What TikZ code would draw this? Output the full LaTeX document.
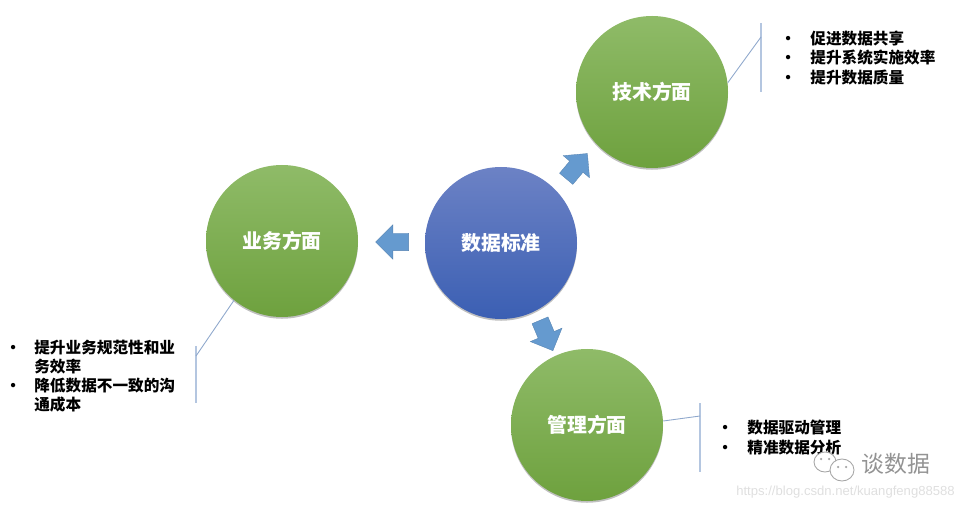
\documentclass[tikz,border=0pt]{standalone}
\usepackage{fontspec}
\usepackage{tikz}
\usetikzlibrary{shapes.arrows, shadows}
\setmainfont{Noto Sans CJK SC}
\newfontfamily\urlfont{Liberation Sans}
\newcommand{\lbul}{\makebox[0.6cm][l]{\textbullet}}
\newcommand{\lbuls}{\makebox[0.58cm][l]{\textbullet}}
\newcommand{\lgap}{\hspace*{0.58cm}}
\definecolor{greentop}{HTML}{8FBB68}
\definecolor{greenbot}{HTML}{6EA13E}
\definecolor{bluetop}{HTML}{6C82C5}
\definecolor{bluebot}{HTML}{3B5FB3}
\definecolor{arrowblue}{HTML}{659ACF}
\definecolor{bracketblue}{HTML}{B4C6E0}
\definecolor{linkblue}{HTML}{8FA8CC}
\tikzset{
  topic/.style={circle, minimum size=3.04cm, inner sep=0pt, text=white, font=\fontsize{11.3}{13}\selectfont\bfseries,
    drop shadow={shadow xshift=0pt, shadow yshift=-1pt, opacity=0.5}},
  greentopic/.style={topic, top color=greentop, bottom color=greenbot},
  bluetopic/.style={topic, top color=bluetop, bottom color=bluebot},
  blockarrow/.style={single arrow, draw=arrowblue!85!black, line width=0.2pt, fill=arrowblue, minimum height=0.66cm,
    inner xsep=0pt, inner ysep=0.17cm, text width=0pt, text height=0pt, text depth=0pt, single arrow head extend=0.17cm},
  points/.style={align=left, anchor=north west, inner sep=0pt, text=black, font=\fontsize{8.9}{10.9}\selectfont\bfseries},
  brace/.style={bracketblue, line width=0.8pt},
  link/.style={linkblue, line width=0.5pt}
}
\begin{document}
\begin{tikzpicture}
    \useasboundingbox (0, 0) rectangle (19.26, 10.16);

    % Circles
    \node[bluetopic] (std) at (10.02, 5.3) {数据标准};
    \node[greentopic] (tech) at (13.04, 8.32) {技术方面};
    \node[greentopic] (biz) at (5.64, 5.34) {业务方面};
    \node[greentopic] (mgmt) at (11.74, 1.66) {管理方面};

    % Block arrows
    \node[blockarrow, rotate=50] (arrtech) at (11.48, 6.77) {};
    \node[blockarrow, rotate=180] (arrbiz) at (7.93, 5.32) {};
    \node[blockarrow, rotate=-67] (arrmgmt) at (10.895, 3.53) {};

    % Brackets
    \coordinate (techtop) at (15.22, 9.7);
    \coordinate (techbot) at (15.22, 8.32);
    \coordinate (techjoin) at (15.22, 9.42);
    \coordinate (biztop) at (3.92, 3.24);
    \coordinate (bizbot) at (3.92, 2.1);
    \coordinate (bizjoin) at (3.92, 3.04);
    \coordinate (mgmttop) at (14.0, 2.1);
    \coordinate (mgmtbot) at (14.0, 0.72);
    \coordinate (mgmtjoin) at (14.0, 1.84);

    \draw[brace] (techtop) -- (techbot);
    \draw[brace] (biztop) -- (bizbot);
    \draw[brace] (mgmttop) -- (mgmtbot);
    \draw[link] (tech.7) -- (techjoin);
    \draw[link] (biz.231) -- (bizjoin);
    \draw[link] (mgmt.3) -- (mgmtjoin);

    % Lists
    \node[points] (techlist) at (15.6, 9.54) {\lbul 促进数据共享\\ \lbul 提升系统实施效率\\ \lbul 提升数据质量};
    \node[points] (bizlist) at (0.1, 3.37) {\lbuls 提升业务规范性和业\\ \lgap 务效率\\ \lbuls 降低数据不一致的沟\\ \lgap 通成本};
    \node[points] (mgmtlist) at (14.34, 1.76) {\lbul 数据驱动管理\\ \lbul 精准数据分析};

    % Watermark
    \draw[gray!70, line width=0.5pt, fill=white] (16.5, 0.92) ellipse (0.22 and 0.2);
    \draw[gray!70, line width=0.5pt, fill=white] (16.84, 0.76) ellipse (0.24 and 0.22);
    \fill[gray!70] (16.42, 0.98) circle (0.025) (16.58, 0.98) circle (0.025);
    \fill[gray!70] (16.76, 0.82) circle (0.025) (16.92, 0.82) circle (0.025);
    \node[text=gray!85, font=\fontsize{13}{15}\selectfont] (mark) at (17.92, 0.88) {谈数据};
    \node[text=gray!25, font=\urlfont\fontsize{7.45}{9}\selectfont] (url) at (16.91, 0.32) {https://blog.csdn.net/kuangfeng88588};
\end{tikzpicture}
\end{document}
